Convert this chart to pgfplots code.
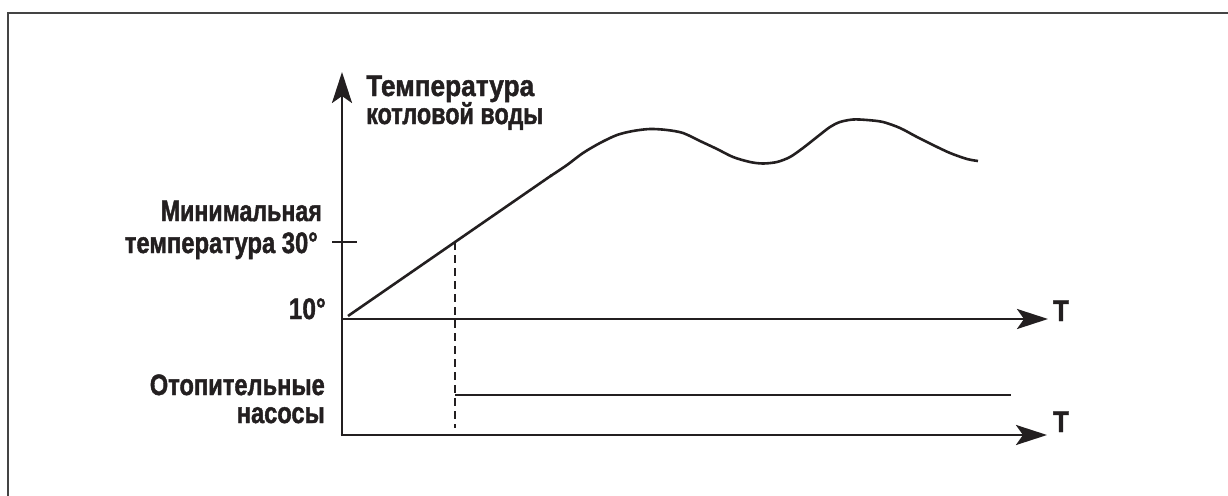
\documentclass[border=0pt]{standalone}
\usepackage{fontspec}
\setmainfont{Liberation Sans}
\newfontfamily\labfont{Liberation Sans Bold}[FakeBold=1.6]
\usepackage{graphicx}
\usepackage{pgfplots}
\pgfplotsset{compat=1.18}
\usetikzlibrary{arrows.meta}
\definecolor{ink}{HTML}{231F20}
\definecolor{framec}{HTML}{444444}
\newcommand\fitw[2]{\sbox0{#2}\pgfmathsetmacro\xs{#1/\the\wd0}\scalebox{\xs}[1]{\usebox0}}
\begin{document}
\begin{tikzpicture}
\path[use as bounding box] (0,0) rectangle (1228pt,495pt);
\begin{axis}[at={(0pt,0pt)}, anchor=south west, scale only axis,
  width=1228pt, height=495pt, xmin=0, xmax=1228, ymin=0, ymax=495,
  y dir=reverse, hide axis, clip=false]
% frame
\addplot[framec, line width=2pt, mark=none] coordinates {(7.5,496) (7.5,13.5) (1229,13.5)};
% vertical axis
\addplot[ink, line width=2.8pt, mark=none, -{Stealth[length=31pt,width=20pt,inset=7pt]}] coordinates {(342,436) (342,72)};
% horizontal axes
\addplot[ink, line width=2.8pt, mark=none, -{Stealth[length=31pt,width=20pt,inset=7pt]}] coordinates {(342,319) (1048,319)};
\addplot[ink, line width=2.8pt, mark=none, -{Stealth[length=31pt,width=20pt,inset=7pt]}] coordinates {(340.6,435) (1047,435)};
% tick at 30
\addplot[ink, line width=1.3pt, mark=none] coordinates {(332,242) (357,242)};
% dashed
\addplot[ink, line width=1.3pt, mark=none, dash pattern=on 8pt off 5pt] coordinates {(455,242) (455,428)};
% pumps
\addplot[ink, line width=2.8pt, mark=none] coordinates {(455,395) (1011,395)};
% ramp
\addplot[ink, line width=2.6pt, mark=none] coordinates {(348,316) (552,175)};
\addplot[ink, line width=2.6pt, mark=none, smooth] coordinates {
(550,176.4) (567,165) (583,153) (600,143) (617,135) (633,131) (650,129) (667,130)
(683,133) (700,141) (717,149) (733,157) (750,162) (763,163.5) (777,162) (790,157)
(803,148) (817,137) (830,127) (840,122) (853,119.5) (867,120) (883,122) (900,128)
(917,137) (933,145) (950,153) (967,159) (978,161)};
% labels
\begin{scope}[every node/.style={inner sep=0pt, text=ink, font=\labfont\fontsize{29.5}{31}\selectfont}]
\node[anchor=base west] at (axis cs:366,96) {\fitw{168}{Температура}};
\node[anchor=base west] at (axis cs:366,124) {\fitw{177}{котловой воды}};
\node[anchor=base east] at (axis cs:322,221) {\fitw{161}{Минимальная}};
\node[anchor=base east] at (axis cs:318,253) {\fitw{193}{температура 30°}};
\node[anchor=base east] at (axis cs:326,319) {\fitw{37}{10°}};
\node[anchor=base east] at (axis cs:325,395) {\fitw{175}{Отопительные}};
\node[anchor=base east] at (axis cs:325,423) {\fitw{88}{насосы}};
\node[anchor=base, font=\labfont\fontsize{29.5}{31}\selectfont] at (axis cs:1061,321) {\fitw{16}{T}};
\node[anchor=base, font=\labfont\fontsize{29.5}{31}\selectfont] at (axis cs:1061,432) {\fitw{16}{T}};
\end{scope}
\end{axis}
\end{tikzpicture}
\end{document}
